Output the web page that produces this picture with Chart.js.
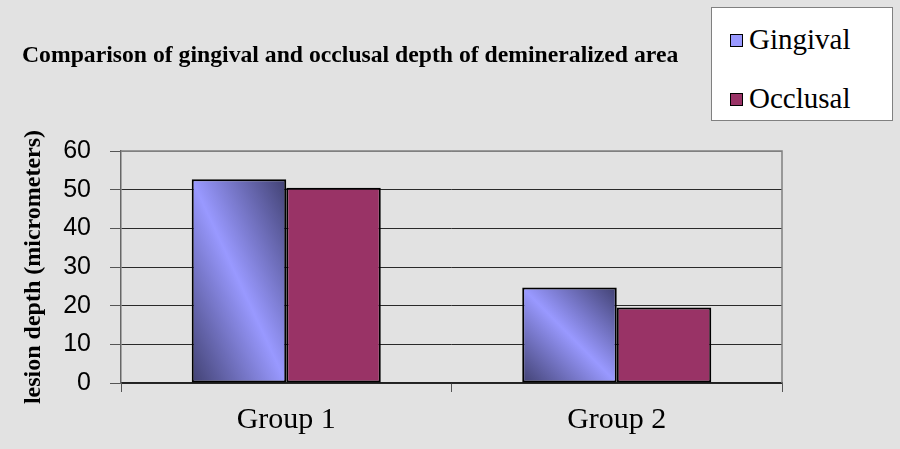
<!DOCTYPE html>
<html lang="en">
<head>
<meta charset="UTF-8">
<title>Lesion depth</title>
<script src="https://cdn.jsdelivr.net/npm/chart.js@4.4.0/dist/chart.umd.min.js"></script>
<style>
  html, body { margin: 0; padding: 0; }
  body { width: 900px; height: 449px; background: #e2e2e2; position: relative; overflow: hidden; }
  #wrap { position: absolute; left: 0; top: 0; width: 900px; height: 449px; }
  #title {
    position: absolute; left: 22px; top: 41px; line-height: 26px;
    font: bold 23.7px "Liberation Serif", "Times New Roman", serif; color: #000;
    white-space: nowrap;
  }
  #legend {
    position: absolute; left: 711px; top: 7px; width: 182px; height: 114px;
    background: #fff; border: 1px solid #808080; box-sizing: border-box;
    font: 29px "Liberation Serif", "Times New Roman", serif; color: #000;
  }
  #legend .item { position: absolute; left: 18px; height: 34px; line-height: 34px; white-space: nowrap; }
  #legend .box {
    display: inline-block; width: 11px; height: 11px; border: 1.5px solid #000;
    vertical-align: middle; margin-right: 6px; position: relative; top: -2px;
  }
</style>
</head>
<body>
<div id="wrap"><canvas id="myChart" width="900" height="449"></canvas></div>
<div id="title">Comparison of gingival and occlusal depth of demineralized area</div>
<div id="legend"></div>
<script>
  const groups    = ['Group 1', 'Group 2'];
  const seriesNames = ['Gingival', 'Occlusal'];
  const gingival  = [52.7, 24.7];
  const occlusal  = [50.5, 19.5];
  const yTicks    = [0, 10, 20, 30, 40, 50, 60];

  const light = '#9999ff';
  const dark  = '#414172';
  const plum  = '#993366';
  const catPct = 0.572;

  // legend built from the series names
  const legend = document.getElementById('legend');
  const legendTops = [14, 73];
  seriesNames.forEach((name, i) => {
    const item = document.createElement('div');
    item.className = 'item';
    item.style.top = legendTops[i] + 'px';
    const box = document.createElement('span');
    box.className = 'box';
    box.style.background = i === 0 ? light : plum;
    item.appendChild(box);
    item.appendChild(document.createTextNode(name));
    legend.appendChild(item);
  });

  // diagonal two-way gradient, like the old office "diagonal up" fill
  function gingivalFill(context) {
    const chart = context.chart;
    const i = context.dataIndex;
    if (i === undefined || !chart.chartArea) return light;
    const xs = chart.scales.x, ys = chart.scales.y;
    const cx = xs.getPixelForValue(i);
    const w = (xs.width / groups.length) * catPct / 2;
    const left = cx - w;
    const bottom = ys.getPixelForValue(0);
    const h = bottom - ys.getPixelForValue(gingival[i]);
    const L2 = w * w + h * h;
    const g = chart.ctx.createLinearGradient(left, bottom,
      left + 2 * w * h * h / L2, bottom - 2 * w * w * h / L2);
    g.addColorStop(0, dark);
    g.addColorStop(0.5, light);
    g.addColorStop(1, dark);
    return g;
  }

  const frame = {
    id: 'frame',
    beforeDatasetsDraw(chart) {
      const { ctx, chartArea: a } = chart;
      ctx.save();
      ctx.strokeStyle = '#808080';
      ctx.lineWidth = 1.5;
      ctx.beginPath();
      ctx.moveTo(a.left, a.top);
      ctx.lineTo(a.right, a.top);
      ctx.lineTo(a.right, a.bottom);
      ctx.stroke();
      ctx.restore();
    }
  };

  const ctx = document.getElementById('myChart').getContext('2d');
  const myChart = new Chart(ctx, {
    type: 'bar',
    data: {
      labels: groups,
      datasets: [{
        label: seriesNames[0],
        data: gingival,
        backgroundColor: gingivalFill,
        borderColor: '#000',
        borderWidth: 2,
        borderSkipped: false
      }, {
        label: seriesNames[1],
        data: occlusal,
        backgroundColor: plum,
        borderColor: '#000',
        borderWidth: 2,
        borderSkipped: false
      }]
    },
    options: {
      responsive: false,
      animation: false,
      devicePixelRatio: 1,
      layout: { padding: { left: 0, top: 151, right: 118, bottom: 0 } },
      datasets: { bar: { categoryPercentage: catPct, barPercentage: 1 } },
      plugins: { legend: { display: false }, tooltip: { enabled: false } },
      scales: {
        x: {
          afterFit: s => { s.height = 66; },
          grid: { offset: true, drawOnChartArea: false, drawTicks: true, tickLength: 9, color: '#555' },
          border: { color: '#222', width: 1.5 },
          ticks: {
            padding: 10,
            color: '#000',
            font: { family: '"Liberation Serif", "Times New Roman", serif', size: 30 }
          }
        },
        y: {
          min: 0, max: 60,
          afterFit: s => { s.width = 121; },
          afterBuildTicks: s => { s.ticks = yTicks.map(v => ({ value: v })); },
          grid: {
            color: c => c.tick && c.tick.value === 60 ? '#808080' : '#2a2a2a',
            lineWidth: 1,
            tickLength: 11,
            tickColor: '#555'
          },
          border: { color: '#666', width: 1.5 },
          ticks: {
            padding: 19,
            color: '#000',
            font: { family: '"Liberation Sans", Arial, sans-serif', size: 25 }
          },
          title: {
            display: true,
            text: 'lesion depth (micrometers)',
            color: '#000',
            padding: { top: 19, bottom: 0 },
            font: { family: '"Liberation Serif", "Times New Roman", serif', size: 24, weight: 'bold' }
          }
        }
      }
    },
    plugins: [frame]
  });
</script>
</body>
</html>
